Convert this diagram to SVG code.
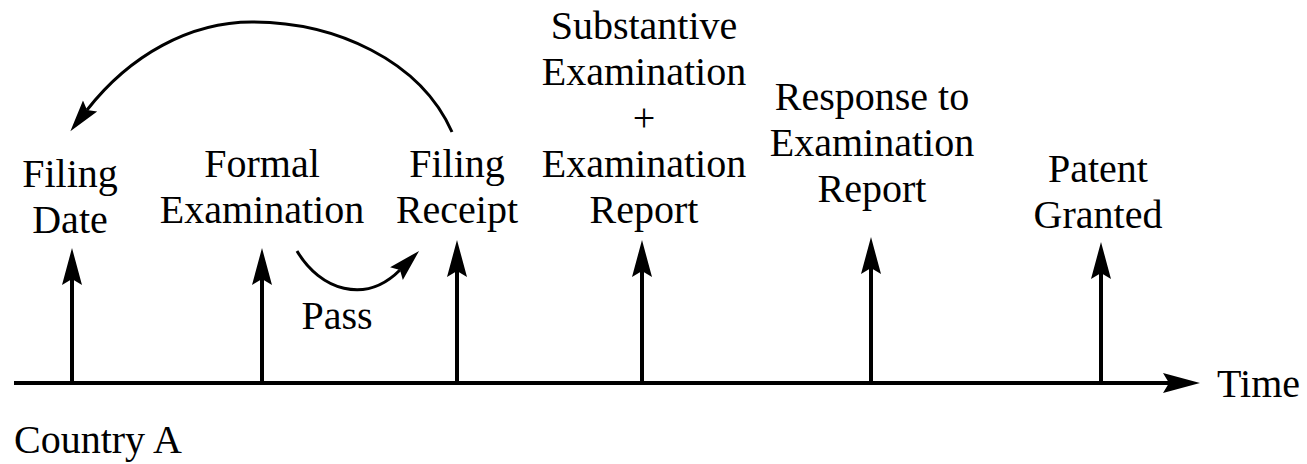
<svg xmlns="http://www.w3.org/2000/svg" width="1307" height="464" viewBox="0 0 1307 464">
<style>
  text { font-family: "Liberation Serif", "Times New Roman", serif; font-size: 40px; fill: #000; }
  .c { text-anchor: middle; }
  .ln { stroke: #000; stroke-width: 4; fill: none; }
  .cv { stroke: #000; stroke-width: 3; fill: none; }
</style>
<defs>
  <marker id="head" markerUnits="userSpaceOnUse" markerWidth="40" markerHeight="22" viewBox="0 0 40 22" refX="6" refY="11" orient="auto">
    <path d="M0,1 L37,11 L0,21 L6,11 Z" fill="#000"/>
  </marker>
  <marker id="headS" markerUnits="userSpaceOnUse" markerWidth="34" markerHeight="20" viewBox="0 0 34 20" refX="5" refY="10" orient="auto">
    <path d="M0,1 L32,10 L0,19 L5,10 Z" fill="#000"/>
  </marker>
</defs>

<g id="connectors">
  <line id="timeline" class="ln" x1="14" y1="383" x2="1169" y2="383" marker-end="url(#head)"/>
  <line class="ln" x1="72" y1="385" x2="72" y2="279" marker-end="url(#head)"/>
  <line class="ln" x1="262" y1="385" x2="262" y2="279" marker-end="url(#head)"/>
  <line class="ln" x1="457" y1="385" x2="457" y2="271" marker-end="url(#head)"/>
  <line class="ln" x1="642" y1="385" x2="642" y2="271" marker-end="url(#head)"/>
  <line class="ln" x1="871" y1="385" x2="871" y2="268" marker-end="url(#head)"/>
  <line class="ln" x1="1101" y1="385" x2="1101" y2="273" marker-end="url(#head)"/>
  <path id="pass-arc" class="cv" d="M297,251 C320,290 365,305 400,270" marker-end="url(#headS)"/>
  <path id="return-arc" class="cv" d="M452,132 C420,60 335,22 252,22 C190,22 130,55 87,110" marker-end="url(#headS)"/>
</g>

<g id="filing-date">
  <text class="c" x="70" y="187">Filing</text>
  <text class="c" x="70" y="233">Date</text>
</g>
<g id="formal-examination">
  <text class="c" x="262" y="177">Formal</text>
  <text class="c" x="262" y="223">Examination</text>
</g>
<g id="filing-receipt">
  <text class="c" x="457" y="177">Filing</text>
  <text class="c" x="457" y="223">Receipt</text>
</g>
<g id="substantive-examination">
  <text class="c" x="644" y="39">Substantive</text>
  <text class="c" x="644" y="85">Examination</text>
  <text class="c" x="644" y="131">+</text>
  <text class="c" x="644" y="177">Examination</text>
  <text class="c" x="644" y="223">Report</text>
</g>
<g id="response">
  <text class="c" x="872" y="110">Response to</text>
  <text class="c" x="872" y="156">Examination</text>
  <text class="c" x="872" y="202">Report</text>
</g>
<g id="patent-granted">
  <text class="c" x="1098" y="182">Patent</text>
  <text class="c" x="1098" y="228">Granted</text>
</g>
<g id="labels">
  <text x="337" y="329" class="c">Pass</text>
  <text x="1217" y="397">Time</text>
  <text x="14" y="453">Country A</text>
</g>
</svg>
